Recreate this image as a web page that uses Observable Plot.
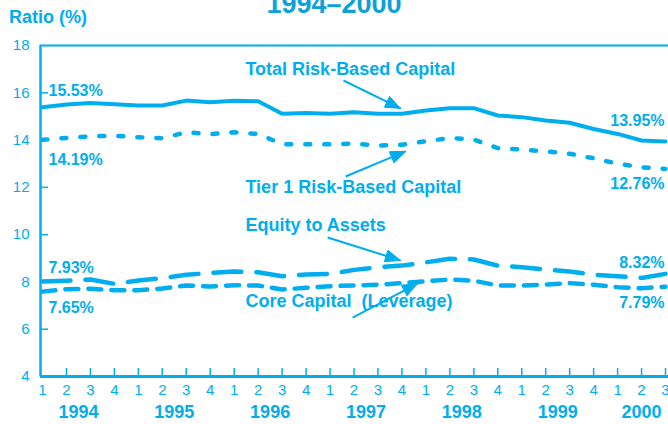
<!DOCTYPE html>
<html>
<head>
<meta charset="utf-8">
<script src="https://cdn.jsdelivr.net/npm/d3@7"></script>
<script src="https://cdn.jsdelivr.net/npm/@observablehq/plot@0.6"></script>
<style>
  html, body { margin: 0; padding: 0; background: #ffffff; }
  #wrap { position: relative; width: 668px; height: 424px; overflow: hidden; font-family: "Liberation Sans", Arial, Helvetica, sans-serif; }
  #title { position: absolute; left: 0; top: -9px; width: 668px; text-align: center; font-size: 27px; line-height: 27px; font-weight: bold; color: #0ea0d8; }
  #ylabel { position: absolute; left: 9px; top: 8px; font-size: 18px; line-height: 18px; font-weight: bold; color: #00aeef; }
  #chart { position: absolute; left: 0; top: 0; }
</style>
</head>
<body>
<div id="wrap">
  <div id="chart"></div>
  <div id="title">1994–2000</div>
  <div id="ylabel">Ratio (%)</div>
</div>
<script>
// ---- data ----
const quarterLabels = ["1","2","3","4","1","2","3","4","1","2","3","4","1","2","3","4","1","2","3","4","1","2","3","4","1","2","3"];
const yearLabels = ["1994","1995","1996","1997","1998","1999","2000"];
const yTicks = [4, 6, 8, 10, 12, 14, 16, 18];

const totalRiskBased = [15.39, 15.50, 15.57, 15.52, 15.46, 15.46, 15.67, 15.60, 15.66, 15.64, 15.11, 15.15, 15.11, 15.18, 15.11, 15.11, 15.25, 15.35, 15.35, 15.04, 14.97, 14.83, 14.73, 14.47, 14.26, 13.98, 13.94];
const tier1RiskBased = [14.01, 14.09, 14.16, 14.18, 14.12, 14.08, 14.33, 14.25, 14.33, 14.26, 13.83, 13.82, 13.82, 13.85, 13.77, 13.80, 13.95, 14.09, 14.02, 13.66, 13.60, 13.52, 13.42, 13.23, 13.00, 12.85, 12.78];
const equityToAssets = [8.02, 8.05, 8.10, 7.92, 8.06, 8.16, 8.30, 8.38, 8.44, 8.41, 8.24, 8.31, 8.34, 8.51, 8.62, 8.69, 8.83, 8.98, 8.95, 8.69, 8.62, 8.52, 8.44, 8.31, 8.24, 8.17, 8.34];
const coreCapital = [7.59, 7.69, 7.71, 7.65, 7.65, 7.72, 7.85, 7.81, 7.86, 7.85, 7.68, 7.75, 7.82, 7.85, 7.88, 7.95, 8.03, 8.10, 8.05, 7.85, 7.85, 7.89, 7.95, 7.88, 7.78, 7.73, 7.80];

const seriesNames = ["Total Risk-Based Capital", "Tier 1 Risk-Based Capital", "Equity to Assets", "Core Capital  (Leverage)"];
const startLabels = ["15.53%", "14.19%", "7.93%", "7.65%"];
const endLabels = ["13.95%", "12.76%", "8.32%", "7.79%"];

// ---- layout ----
const C = "#00aeef";
const FONT = "Liberation Sans, Arial, Helvetica, sans-serif";
const xDomain = [-0.083, 26.125], xRange = [40, 668];
const yDomain = [4, 18], yRange = [376, 45];
const sx = d3.scaleLinear(xDomain, xRange), sy = d3.scaleLinear(yDomain, yRange);
const xMin = xDomain[0], xMax = xDomain[1], yMin = yDomain[0], yMax = yDomain[1];
const xTickTop = sy.invert(sy(yMin) - 8);      // 8px inward tick
const yTickRight = sx.invert(sx(xMin) + 8);

const rows = quarterLabels.map((q, i) => ({
  i, q,
  total: totalRiskBased[i], tier1: tier1RiskBased[i], equity: equityToAssets[i], core: coreCapital[i]
}));
const years = yearLabels.map((y, k) => ({ label: y, x: Math.min(4 * k + 1.5, 25) }));

const nameLayout = [
  { x: 8.47, y: 16.98 }, { x: 8.47, y: 12.0 }, { x: 8.47, y: 10.39 }, { x: 8.47, y: 7.17 }
];
const names = seriesNames.map((t, k) => ({ t, ...nameLayout[k] }));

const arrowLayout = [
  { x1: 12.56, y1: 16.52, x2: 14.94, y2: 15.34 },
  { x1: 12.65, y1: 12.46, x2: 15.15, y2: 13.52 },
  { x1: 11.9, y1: 9.88, x2: 14.94, y2: 8.91 },
  { x1: 12.94, y1: 6.49, x2: 15.65, y2: 7.93 }
];
// arrowhead polygons (filled triangles), built in pixel space then mapped back to data
const heads = [];
arrowLayout.forEach((a, k) => {
  const px1 = sx(a.x1), py1 = sy(a.y1), px2 = sx(a.x2), py2 = sy(a.y2);
  const L = Math.hypot(px2 - px1, py2 - py1), ux = (px2 - px1) / L, uy = (py2 - py1) / L;
  const len = 15, half = 6;
  const bx = px2 - ux * len, by = py2 - uy * len;
  const pts = [[px2, py2], [bx - uy * half, by + ux * half], [bx + uy * half, by - ux * half], [px2, py2]];
  pts.forEach(([px, py]) => heads.push({ k, x: sx.invert(px), y: sy.invert(py) }));
});

const startPos = [16.10, 13.18, 8.61, 6.92];
const endPos = [14.83, 12.16, 8.82, 7.13];
const startTexts = startLabels.map((t, k) => ({ t, x: 0.25, y: startPos[k] }));
const endTexts = endLabels.map((t, k) => ({ t, x: 25.96, y: endPos[k] }));

const plot = Plot.plot({
  width: 668,
  height: 424,
  style: { fontFamily: FONT, background: "transparent", overflow: "visible" },
  x: { type: "linear", domain: xDomain, range: xRange, axis: null },
  y: { type: "linear", domain: yDomain, range: yRange, axis: null },
  marks: [
    // frame
    Plot.ruleY([yMax], { x1: xMin, x2: xMax, stroke: C, strokeWidth: 2 }),
    Plot.ruleY([yMin], { x1: xMin, x2: xMax, stroke: C, strokeWidth: 3 }),
    Plot.ruleX([xMin], { y1: yMin, y2: yMax, stroke: C, strokeWidth: 2.5 }),
    // inward ticks
    Plot.ruleX(rows.slice(1), { x: "i", y1: yMin, y2: xTickTop, stroke: C, strokeWidth: 1.5 }),
    Plot.ruleY(yTicks.slice(1, -1), { y: d => d, x1: xMin, x2: yTickRight, stroke: C, strokeWidth: 1.5 }),
    // tick labels
    Plot.text(yTicks, { x: () => xMin, y: d => d, text: d => String(d), dx: -11, textAnchor: "end", fill: C, fontSize: 15 }),
    Plot.text(rows, { x: "i", y: () => yMin, text: "q", dy: 14, fill: C, fontSize: 15 }),
    Plot.text(years, { x: "x", y: () => yMin, text: "label", dy: 36, fill: C, fontSize: 18, fontWeight: "bold" }),
    // series
    Plot.line(rows, { x: "i", y: "total", stroke: C, strokeWidth: 4, strokeLinejoin: "round", strokeLinecap: "round" }),
    Plot.line(rows, { x: "i", y: "tier1", stroke: C, strokeWidth: 4.5, strokeDasharray: "5,14", strokeLinecap: "round", strokeLinejoin: "round" }),
    Plot.line(rows, { x: "i", y: "equity", stroke: C, strokeWidth: 4.5, strokeDasharray: "28,15", strokeLinecap: "round", strokeLinejoin: "round" }),
    Plot.line(rows, { x: "i", y: "core", stroke: C, strokeWidth: 4.5, strokeDasharray: "13,10", strokeLinecap: "round", strokeLinejoin: "round" }),
    // annotations
    Plot.text(names, { x: "x", y: "y", text: "t", textAnchor: "start", fill: C, fontSize: 18, fontWeight: "bold" }),
    Plot.link(arrowLayout, { x1: "x1", y1: "y1", x2: "x2", y2: "y2", stroke: C, strokeWidth: 2 }),
    Plot.line(heads, { x: "x", y: "y", z: "k", fill: C, stroke: C, strokeWidth: 1, strokeLinejoin: "round" }),
    Plot.text(startTexts, { x: "x", y: "y", text: "t", textAnchor: "start", fill: C, fontSize: 16, fontWeight: "bold" }),
    Plot.text(endTexts, { x: "x", y: "y", text: "t", textAnchor: "end", fill: C, fontSize: 16, fontWeight: "bold" })
  ]
});
document.getElementById("chart").appendChild(plot);
</script>
</body>
</html>
